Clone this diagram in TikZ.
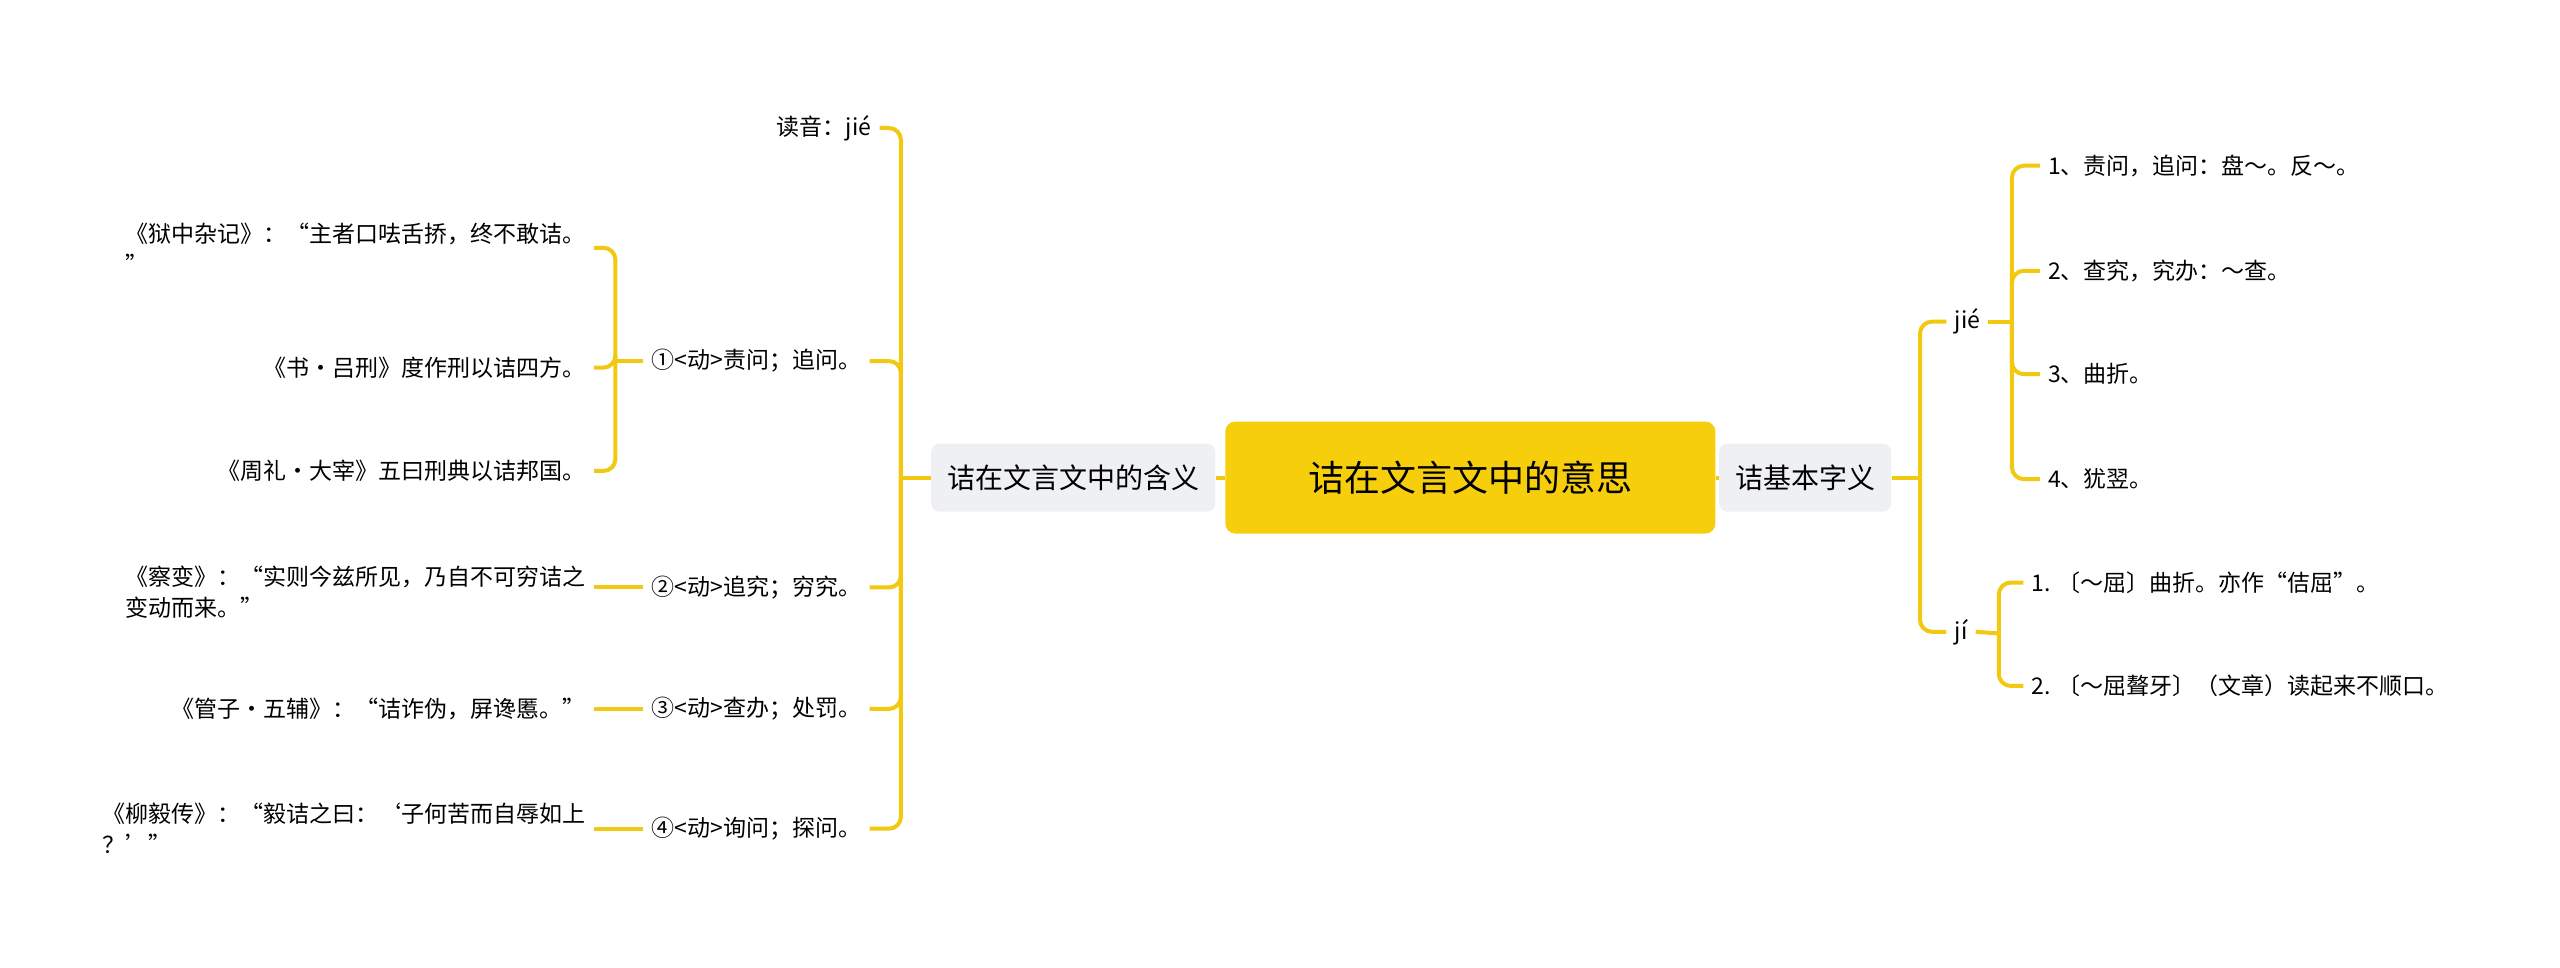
\documentclass[tikz,border=0pt]{standalone}
\usepackage{fontspec}
\setmainfont{Noto Sans CJK SC}
\usetikzlibrary{calc}
\definecolor{linkyellow}{HTML}{F2C811}
\definecolor{rootyellow}{HTML}{F7CE0C}
\definecolor{boxgray}{HTML}{EEF0F3}
\tikzset{
  link/.style={draw=linkyellow,line width=2pt,rounded corners=6pt},
  txt/.style={inner xsep=4pt,inner ysep=2pt,align=left,font=\fontsize{11.5}{15.5}\selectfont},
  topic/.style={fill=boxgray,rounded corners=4pt,minimum height=34,inner xsep=8pt,font=\fontsize{14}{16}\selectfont},
  rootbox/.style={fill=rootyellow,rounded corners=5pt,minimum height=56,minimum width=245,font=\fontsize{18}{20}\selectfont},
}
\begin{document}
\begin{tikzpicture}[x=0.8205pt,y=-0.8205pt]
          \useasboundingbox (0,0) rectangle (1560,589.3);
          % centre and main branches
          \node[rootbox] (root) at (896,291) {诘在文言文中的意思};
          \node[topic] (l1) at (654,291) {诘在文言文中的含义};
          \node[topic] (r1) at (1100,291) {诘基本字义};
          \draw[link] (root.west) -- (l1.east);
          \draw[link] (root.east) -- (r1.east -| r1.west) (root.east) -- (r1.west);
          % left side
          \node[txt,anchor=east] (yin) at (536,78) {读音：jié};
          \node[txt,anchor=west] (m1) at (392,220) {①<动>责问；追问。};
          \node[txt,anchor=west] (m2) at (392,358) {②<动>追究；穷究。};
          \node[txt,anchor=west] (m3) at (392,432) {③<动>查办；处罚。};
          \node[txt,anchor=west] (m4) at (392,505) {④<动>询问；探问。};
          \coordinate (lv) at (549,291);
          \draw[link] (l1.west) -- (lv);
          \foreach \n in {yin,m1,m2,m3,m4}
            \draw[link] (lv) |- (\n.east);
          \node[txt,anchor=east] (q1) at (362,151) {《狱中杂记》：“主者口呿舌挢，终不敢诘。\\”};
          \node[txt,anchor=east] (q2) at (362,224) {《书·吕刑》度作刑以诘四方。};
          \node[txt,anchor=east] (q3) at (362,287) {《周礼·大宰》五曰刑典以诘邦国。};
          \coordinate (sv) at (375,220);
          \draw[link] (m1.west) -- (sv);
          \foreach \n in {q1,q2,q3}
            \draw[link] (sv) |- (\n.east);
          \node[txt,anchor=east] (q4) at (362,361) {《察变》：“实则今兹所见，乃自不可穷诘之\\变动而来。”};
          \node[txt,anchor=east] (q5) at (362,432) {《管子·五辅》：“诘诈伪，屏谗慝。”};
          \node[txt,anchor=east] (q6) at (362,505) {《柳毅传》：“毅诘之曰：‘子何苦而自辱如上\\？’”};
          \draw[link] (m2.west) -- (m2.west -| q4.east);
          \draw[link] (m3.west) -- (q5.east);
          \draw[link] (m4.west) -- (m4.west -| q6.east);
          % right side
          \node[txt,anchor=west] (jie) at (1186,196) {jié};
          \node[txt,anchor=west] (ji) at (1186,385) {jí};
          \coordinate (rv) at (1170,291);
          \draw[link] (r1.east) -- (rv);
          \draw[link] (rv) |- (jie.west);
          \draw[link] (rv) |- (ji.west);
          \node[txt,anchor=west] (d1) at (1243,101) {1、责问，追问：盘～。反～。};
          \node[txt,anchor=west] (d2) at (1243,165) {2、查究，究办：～查。};
          \node[txt,anchor=west] (d3) at (1243,228) {3、曲折。};
          \node[txt,anchor=west] (d4) at (1243,292) {4、犹翌。};
          \coordinate (jv) at (1226,196);
          \draw[link] (jie.east) -- (jv);
          \foreach \n in {d1,d2,d3,d4}
            \draw[link] (jv) |- (\n.west);
          \node[txt,anchor=west] (e1) at (1233,355) {1. 〔～屈〕曲折。亦作“佶屈”。};
          \node[txt,anchor=west] (e2) at (1233,418) {2. 〔～屈聱牙〕（文章）读起来不顺口。};
          \coordinate (iv) at (1218,386);
          \draw[link] (ji.east) -- (iv);
          \foreach \n in {e1,e2}
            \draw[link] (iv) |- (\n.west);
        \end{tikzpicture}
\end{document}
